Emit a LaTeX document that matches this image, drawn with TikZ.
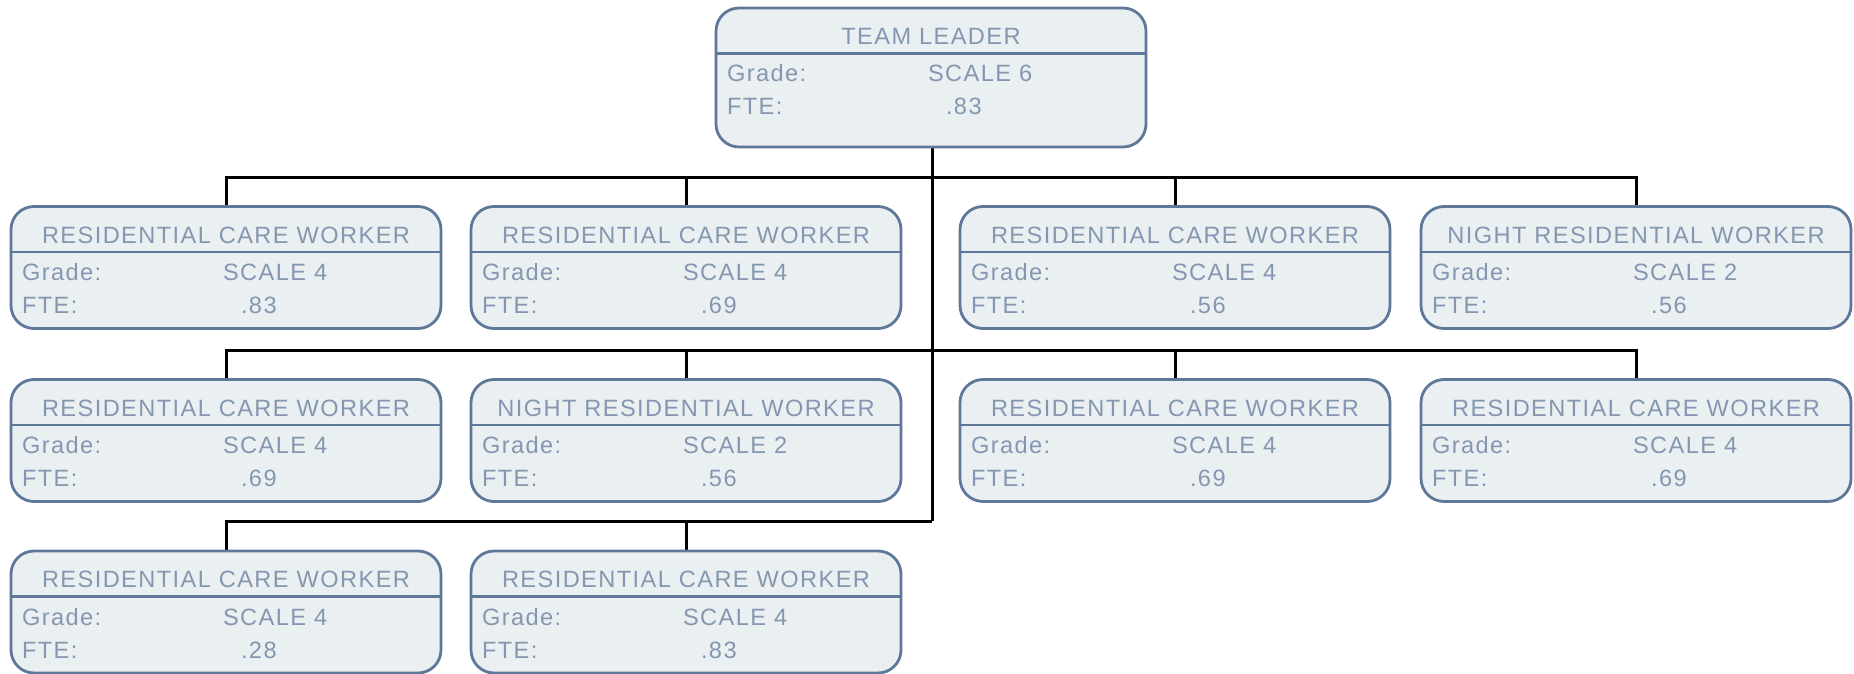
\documentclass[tikz,border=0pt]{standalone}
\usepackage{fontspec}
\setmainfont{Liberation Sans}[LetterSpace=6]
\usetikzlibrary{backgrounds}
\definecolor{boxfill}{HTML}{EAEFF2}
\definecolor{boxline}{HTML}{5F7799}
\definecolor{boxtext}{HTML}{8597B0}
\tikzset{
  orgbox/.style={draw=boxline, fill=boxfill, line width=2.8pt, rounded corners=23pt,
    anchor=north west, minimum width=430pt, inner sep=0pt, outer sep=0pt},
  lbl/.style={text=boxtext, font=\fontsize{23.6}{26}\selectfont, inner sep=0pt, outer sep=0pt},
  divider/.style={draw=boxline, line width=2.8pt},
  conn/.style={draw=black, line width=3pt}
}
% #1 name, #2 left x, #3 top y, #4 height, #5 title, #6 grade, #7 fte
\newcommand\orgcard[7]{%
  \node[orgbox, minimum height=#4pt] (#1) at (#2,#3) {};
  \draw[divider] (#2,#3+45.5) -- (#2+430,#3+45.5);
  \node[lbl, anchor=base] (#1-t) at (#2+215,#3+36.5) {#5};
  \node[lbl, anchor=base west] (#1-g) at (#2+11,#3+74) {Grade:};
  \node[lbl, anchor=base west] (#1-s) at (#2+212,#3+74) {#6};
  \node[lbl, anchor=base west] (#1-f) at (#2+11,#3+107) {FTE:};
  \node[lbl, anchor=base west] (#1-v) at (#2+230,#3+107) {#7};
}
\begin{document}
\begin{tikzpicture}[x=1pt,y=-1pt]
\useasboundingbox (0,0) rectangle (1854,674);
\orgcard{top}{716}{8}{139}{TEAM LEADER}{SCALE 6}{.83}
\orgcard{r1a}{11}{206.5}{122}{RESIDENTIAL CARE WORKER}{SCALE 4}{.83}
\orgcard{r1b}{471}{206.5}{122}{RESIDENTIAL CARE WORKER}{SCALE 4}{.69}
\orgcard{r1c}{960}{206.5}{122}{RESIDENTIAL CARE WORKER}{SCALE 4}{.56}
\orgcard{r1d}{1421}{206.5}{122}{NIGHT RESIDENTIAL WORKER}{SCALE 2}{.56}
\orgcard{r2a}{11}{379.5}{122}{RESIDENTIAL CARE WORKER}{SCALE 4}{.69}
\orgcard{r2b}{471}{379.5}{122}{NIGHT RESIDENTIAL WORKER}{SCALE 2}{.56}
\orgcard{r2c}{960}{379.5}{122}{RESIDENTIAL CARE WORKER}{SCALE 4}{.69}
\orgcard{r2d}{1421}{379.5}{122}{RESIDENTIAL CARE WORKER}{SCALE 4}{.69}
\orgcard{r3a}{11}{551}{122}{RESIDENTIAL CARE WORKER}{SCALE 4}{.28}
\orgcard{r3b}{471}{551}{122}{RESIDENTIAL CARE WORKER}{SCALE 4}{.83}
\coordinate (bus1) at ([xshift=1pt]top.south |- 0,177);
\coordinate (bus2) at ([xshift=1pt]top.south |- 0,350);
\coordinate (bus3) at ([xshift=1pt]top.south |- 0,521);
\begin{scope}[on background layer]
  \draw[conn] ([xshift=1pt]top.south) -- (bus3);
  \draw[conn] (r1a.north) |- (bus1) -| (r1d.north);
  \draw[conn] (r1b.north) -- (r1b.north |- bus1);
  \draw[conn] (r1c.north) -- (r1c.north |- bus1);
  \draw[conn] (r2a.north) |- (bus2) -| (r2d.north);
  \draw[conn] (r2b.north) -- (r2b.north |- bus2);
  \draw[conn] (r2c.north) -- (r2c.north |- bus2);
  \draw[conn] (r3a.north) |- (bus3);
  \draw[conn] (r3b.north) -- (r3b.north |- bus3);
\end{scope}
\end{tikzpicture}
\end{document}
